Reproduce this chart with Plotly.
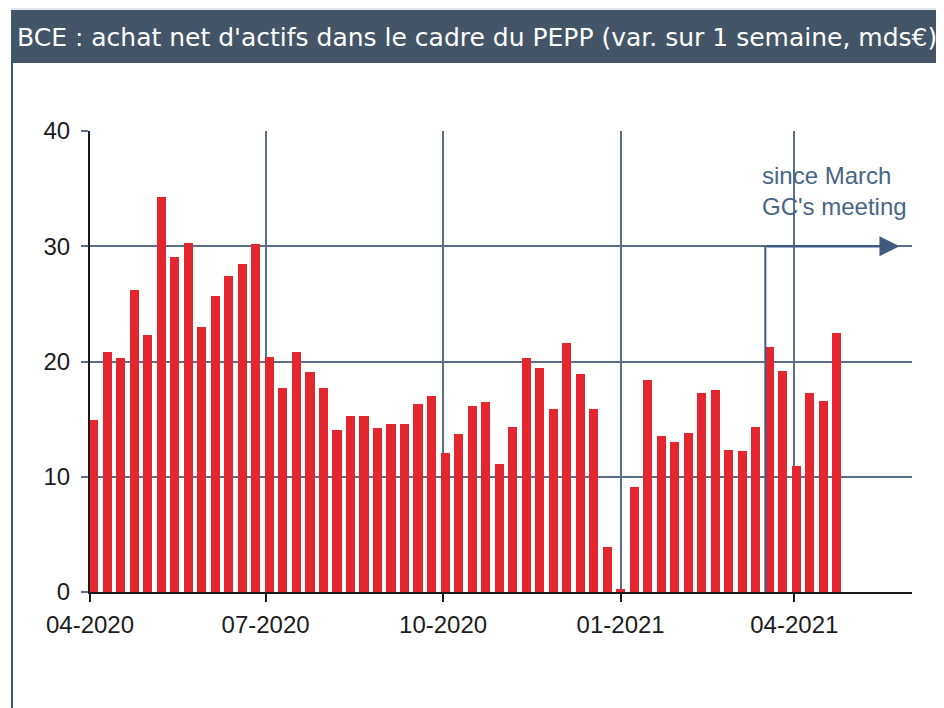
import plotly.graph_objects as go

# ---- data ----
weeks = [
    "2020-04-03", "2020-04-10", "2020-04-17", "2020-04-24", "2020-05-01", "2020-05-08",
    "2020-05-15", "2020-05-22", "2020-05-29", "2020-06-05", "2020-06-12", "2020-06-19",
    "2020-06-26", "2020-07-03", "2020-07-10", "2020-07-17", "2020-07-24", "2020-07-31",
    "2020-08-07", "2020-08-14", "2020-08-21", "2020-08-28", "2020-09-04", "2020-09-11",
    "2020-09-18", "2020-09-25", "2020-10-02", "2020-10-09", "2020-10-16", "2020-10-23",
    "2020-10-30", "2020-11-06", "2020-11-13", "2020-11-20", "2020-11-27", "2020-12-04",
    "2020-12-11", "2020-12-18", "2020-12-25", "2021-01-01", "2021-01-08", "2021-01-15",
    "2021-01-22", "2021-01-29", "2021-02-05", "2021-02-12", "2021-02-19", "2021-02-26",
    "2021-03-05", "2021-03-12", "2021-03-19", "2021-03-26", "2021-04-02", "2021-04-09",
    "2021-04-16", "2021-04-23",
]
purchases = [
    14.9, 20.8, 20.3, 26.2, 22.3, 34.3, 29.1, 30.3, 23.0, 25.7, 27.4, 28.5,
    30.2, 20.4, 17.7, 20.8, 19.1, 17.7, 14.1, 15.3, 15.3, 14.2, 14.6, 14.6,
    16.3, 17.0, 12.1, 13.7, 16.1, 16.5, 11.1, 14.3, 20.3, 19.4, 15.9, 21.6,
    18.9, 15.9, 3.9, 0.3, 9.1, 18.4, 13.5, 13.0, 13.8, 17.3, 17.5, 12.3,
    12.2, 14.3, 21.3, 19.2, 10.9, 17.3, 16.6, 22.5,
]
tick_dates = ["2020-04-01", "2020-07-01", "2020-10-01", "2021-01-01", "2021-04-01"]
tick_labels = ["04-2020", "07-2020", "10-2020", "01-2021", "04-2021"]
y_ticks = [0, 10, 20, 30, 40]

title_text = "BCE : achat net d'actifs dans le cadre du PEPP (var. sur 1 semaine, mds€)"
note_text = "since March<br>GC's meeting"
meeting_date = "2021-03-17"
arrow_end = "2021-05-25 12:00"
arrow_level = 30

# ---- layout constants (page body has an 8px margin) ----
OFF = 8
W, H = 944 - OFF, 708 - OFF
L = 90 - OFF
T = 131 - OFF
R = W - (912 - OFF)
B = H - (592 - OFF)
PW, PH = W - L - R, H - T - B


def px(x):
    """reference-screen x pixel -> paper fraction"""
    return (x - OFF - L) / PW


def py(y):
    """reference-screen y pixel -> paper fraction"""
    return (H - B - (y - OFF)) / PH


FONT = "Liberation Sans, Arial, sans-serif"
SLATE = "#435567"
GRID = "#5a6d89"
ARROW = "#3f5b80"

fig = go.Figure()
fig.add_trace(go.Bar(
    x=weeks, y=purchases,
    width=4.7 * 86400000,
    marker=dict(color="#e4262f", line=dict(width=0)),
    hoverinfo="x+y",
))

shapes = [
    dict(type="line", xref="paper", yref="paper", x0=px(11), x1=px(946), y0=py(9), y1=py(9),
         line=dict(color="#c9cdd2", width=1), layer="above"),
    dict(type="rect", xref="paper", yref="paper", x0=px(11), x1=px(946), y0=py(63), y1=py(10),
         fillcolor=SLATE, line=dict(width=0), layer="above"),
    dict(type="line", xref="paper", yref="paper", x0=px(12), x1=px(12), y0=py(63), y1=py(712),
         line=dict(color=SLATE, width=2), layer="above"),
    dict(type="line", xref="paper", yref="paper", x0=px(942), x1=px(942), y0=py(63), y1=py(712),
         line=dict(color=SLATE, width=2), layer="above"),
    dict(type="line", xref="x", yref="y", x0=meeting_date, x1=meeting_date, y0=0, y1=arrow_level,
         line=dict(color=ARROW, width=2), layer="above"),
]

annotations = [
    dict(text=title_text, xref="paper", yref="paper", x=px(15), y=py(37),
         xanchor="left", yanchor="middle", showarrow=False,
         font=dict(family="DejaVu Sans, sans-serif", size=25, color="white")),
    dict(text=note_text, xref="x", yref="y", x=meeting_date, y=34.8, xshift=-5,
         xanchor="left", yanchor="middle", align="left", showarrow=False,
         font=dict(family=FONT, size=24, color="#4a6486")),
    dict(text="", xref="x", yref="y", axref="x", ayref="y",
         x=arrow_end, y=arrow_level, ax=meeting_date, ay=arrow_level,
         showarrow=True, arrowhead=2, arrowsize=1.6, arrowwidth=2.5, arrowcolor=ARROW,
         standoff=0, startstandoff=0),
]

fig.update_layout(
    width=W, height=H,
    margin=dict(l=L, r=R, t=T, b=B, pad=0),
    paper_bgcolor="white", plot_bgcolor="white",
    showlegend=False,
    bargap=0,
    shapes=shapes,
    annotations=annotations,
    font=dict(family=FONT, size=24, color="#1c1c1c"),
)
fig.update_xaxes(
    type="date", range=["2020-04-01", "2021-06-01"],
    tickvals=tick_dates, ticktext=tick_labels,
    showgrid=True, gridcolor=GRID, gridwidth=1.5,
    showline=True, linecolor="#1a1a1a", linewidth=2,
    ticks="outside", ticklen=8, tickcolor="#1a1a1a", tickwidth=1.5,
    ticklabelstandoff=2,
    tickfont=dict(family=FONT, size=24, color="#1c1c1c"),
    zeroline=False,
)
fig.update_yaxes(
    range=[0, 40], tickvals=y_ticks,
    showgrid=True, gridcolor=GRID, gridwidth=1.5,
    showline=True, linecolor="#1a1a1a", linewidth=2,
    ticks="outside", ticklen=7, tickcolor=GRID, tickwidth=1.5,
    ticklabelstandoff=6,
    tickfont=dict(family=FONT, size=24, color="#1c1c1c"),
    zeroline=False,
)

fig.write_html("out.html")
